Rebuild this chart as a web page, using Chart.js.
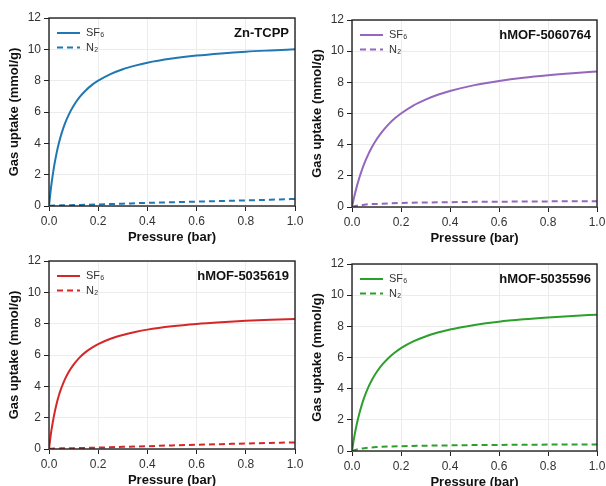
<!DOCTYPE html>
<html>
<head>
<meta charset="utf-8">
<script src="https://cdn.jsdelivr.net/npm/chart.js@4"></script>
<style>
  body { margin: 0; background: #fff; }
  #wrap { position: relative; width: 606px; height: 486px; background: #fff; overflow: hidden; }
  .panel { position: absolute; width: 315px; height: 252px; }
</style>
</head>
<body>
<div id="wrap">
  <div class="panel" style="left:0;top:0"><canvas id="c1"></canvas></div>
  <div class="panel" style="left:303px;top:0"><canvas id="c2"></canvas></div>
  <div class="panel" style="left:0;top:243px"><canvas id="c3"></canvas></div>
  <div class="panel" style="left:303px;top:243px"><canvas id="c4"></canvas></div>
</div>
<script>
// pressure points (bar)
const pressure = [0, 0.005, 0.01, 0.02, 0.03, 0.04, 0.05, 0.065, 0.08, 0.1, 0.125, 0.15, 0.175, 0.2, 0.25, 0.3, 0.35, 0.4, 0.5, 0.6, 0.7, 0.8, 0.9, 1.0];
const pressureN2 = [0, 0.02, 0.05, 0.1, 0.2, 0.3, 0.4, 0.5, 0.6, 0.7, 0.8, 0.9, 1.0];

// SF6 uptake (mmol/g)
const sf6ZnTCPP   = [0, 0.74, 1.39, 2.46, 3.31, 4.0, 4.57, 5.27, 5.82, 6.4, 6.96, 7.39, 7.73, 8.0, 8.42, 8.73, 8.96, 9.15, 9.41, 9.6, 9.74, 9.85, 9.93, 10.0];
const sf6H5060764 = [0, 0.37, 0.72, 1.34, 1.88, 2.35, 2.78, 3.33, 3.8, 4.33, 4.87, 5.32, 5.69, 6.0, 6.51, 6.89, 7.2, 7.44, 7.82, 8.09, 8.3, 8.46, 8.59, 8.7];
const sf6H5035619 = [0, 0.64, 1.2, 2.11, 2.83, 3.41, 3.88, 4.46, 4.92, 5.39, 5.85, 6.2, 6.47, 6.7, 7.04, 7.28, 7.47, 7.62, 7.83, 7.98, 8.09, 8.18, 8.25, 8.3];
const sf6H5035596 = [0, 0.51, 0.97, 1.76, 2.41, 2.96, 3.44, 4.03, 4.52, 5.05, 5.57, 5.99, 6.32, 6.6, 7.03, 7.35, 7.6, 7.8, 8.09, 8.3, 8.45, 8.57, 8.67, 8.75];

// N2 uptake (mmol/g)
const n2ZnTCPP   = [0.02, 0.03, 0.04, 0.06, 0.1, 0.15, 0.2, 0.24, 0.28, 0.32, 0.36, 0.4, 0.45];
const n2H5060764 = [0, 0.08, 0.15, 0.2, 0.26, 0.29, 0.31, 0.33, 0.34, 0.35, 0.36, 0.365, 0.37];
const n2H5035619 = [0.02, 0.03, 0.04, 0.05, 0.09, 0.14, 0.18, 0.23, 0.27, 0.31, 0.35, 0.39, 0.42];
const n2H5035596 = [0, 0.1, 0.18, 0.25, 0.31, 0.34, 0.36, 0.38, 0.39, 0.4, 0.41, 0.415, 0.42];

const xTickLabels = ['0.0', '0.2', '0.4', '0.6', '0.8', '1.0'];
const yTickLabels = ['0', '2', '4', '6', '8', '10', '12'];

const FONT = "'Liberation Sans', Arial, sans-serif";

// legend + sample label + full frame, drawn inside the plot area
const panelDecor = {
  id: 'panelDecor',
  afterDraw(chart, args, opts) {
    const { ctx, chartArea: a } = chart;
    ctx.save();
    ctx.strokeStyle = '#222';
    ctx.lineWidth = 1.4;
    ctx.strokeRect(a.left, a.top, a.right - a.left, a.bottom - a.top);

    const rows = [
      { text: 'SF₆', dash: [] },
      { text: 'N₂', dash: [6, 4] }
    ];
    rows.forEach((r, i) => {
      const y = a.top + 15 + i * 14.5;
      ctx.strokeStyle = opts.color;
      ctx.lineWidth = 2;
      ctx.setLineDash(r.dash);
      ctx.beginPath();
      ctx.moveTo(a.left + 8, y);
      ctx.lineTo(a.left + 31, y);
      ctx.stroke();
      ctx.setLineDash([]);
      ctx.fillStyle = '#333';
      ctx.font = '11px ' + FONT;
      ctx.textBaseline = 'middle';
      ctx.textAlign = 'left';
      ctx.fillText(r.text, a.left + 37, y);
    });

    ctx.fillStyle = '#111';
    ctx.font = 'bold 13px ' + FONT;
    ctx.textAlign = 'right';
    ctx.textBaseline = 'middle';
    ctx.fillText(opts.label, a.right - 6, a.top + 15);
    ctx.restore();
  }
};

function toPoints(xs, ys) {
  return xs.map((x, i) => ({ x: x, y: ys[i] }));
}

function makePanel(id, label, color, sf6, n2, pad) {
  new Chart(document.getElementById(id), {
    type: 'line',
    data: {
      datasets: [
        {
          label: 'SF₆',
          data: toPoints(pressure, sf6),
          borderColor: color,
          borderWidth: 2,
          pointRadius: 0,
          cubicInterpolationMode: 'monotone'
        },
        {
          label: 'N₂',
          data: toPoints(pressureN2, n2),
          borderColor: color,
          borderWidth: 2,
          borderDash: [6, 4],
          pointRadius: 0,
          cubicInterpolationMode: 'monotone'
        }
      ]
    },
    options: {
      responsive: false,
      animation: false,
      devicePixelRatio: 1,
      layout: { padding: { top: pad.top, right: pad.right, left: 0, bottom: 0 } },
      plugins: {
        legend: { display: false },
        tooltip: { enabled: false },
        panelDecor: { color: color, label: label }
      },
      scales: {
        x: {
          type: 'linear',
          min: 0,
          max: 1,
          afterBuildTicks: (s) => { s.ticks = xTickLabels.map(t => ({ value: parseFloat(t) })); },
          ticks: {
            callback: (v, i) => xTickLabels[i],
            color: '#333',
            font: { size: 12, family: FONT },
            padding: 3,
            maxRotation: 0
          },
          grid: { color: '#ececec', tickColor: '#222', tickLength: 5, lineWidth: 1 },
          border: { display: false },
          title: {
            display: true,
            text: 'Pressure (bar)',
            color: '#111',
            font: { size: 13, weight: 'bold', family: FONT },
            padding: { top: 0, bottom: pad.tb }
          },
          afterFit: (s) => { s.height = pad.xh; }
        },
        y: {
          min: 0,
          max: 12,
          afterBuildTicks: (s) => { s.ticks = yTickLabels.map(t => ({ value: parseFloat(t) })); },
          ticks: {
            callback: (v, i) => yTickLabels[i],
            color: '#333',
            font: { size: 12, family: FONT },
            padding: 3
          },
          grid: { color: '#ececec', tickColor: '#222', tickLength: 5, lineWidth: 1 },
          border: { display: false },
          title: {
            display: true,
            text: 'Gas uptake (mmol/g)',
            color: '#111',
            font: { size: 13, weight: 'bold', family: FONT },
            padding: { top: 7, bottom: 0 }
          },
          afterFit: (s) => { s.width = 49; }
        }
      }
    },
    plugins: [panelDecor]
  });
}

function sizeCanvas(id) {
  const c = document.getElementById(id);
  c.width = 315; c.height = 252;
  c.style.width = '315px'; c.style.height = '252px';
}
['c1', 'c2', 'c3', 'c4'].forEach(sizeCanvas);

makePanel('c1', 'Zn-TCPP', '#1f77b4', sf6ZnTCPP, n2ZnTCPP, { top: 18, right: 20, xh: 46, tb: 7 });
makePanel('c2', 'hMOF-5060764', '#9467bd', sf6H5060764, n2H5060764, { top: 20, right: 21, xh: 45, tb: 6 });
makePanel('c3', 'hMOF-5035619', '#d62728', sf6H5035619, n2H5035619, { top: 18, right: 20, xh: 46, tb: 7 });
makePanel('c4', 'hMOF-5035596', '#2ca02c', sf6H5035596, n2H5035596, { top: 21, right: 21, xh: 44, tb: 5 });
</script>
</body>
</html>
